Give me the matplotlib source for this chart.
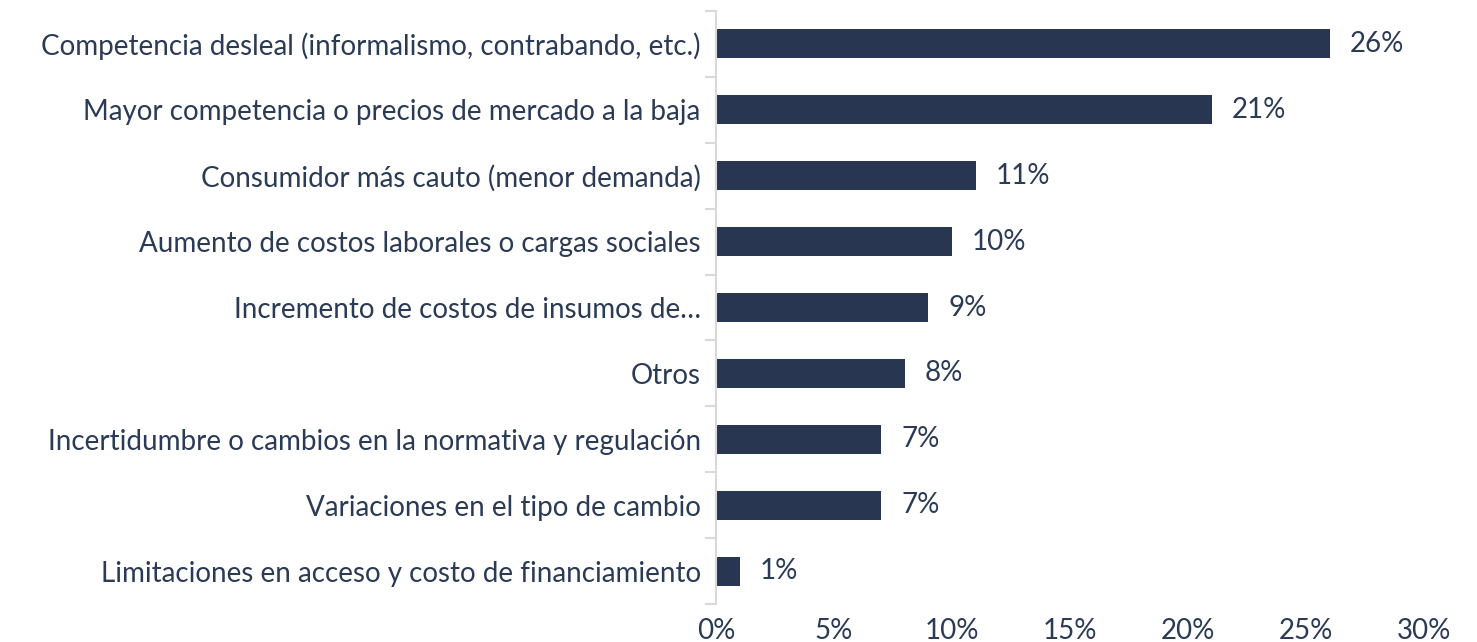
import matplotlib
matplotlib.use("Agg")
import matplotlib.pyplot as plt
from matplotlib.ticker import FuncFormatter, FixedLocator

categories = [
    "Competencia desleal (informalismo, contrabando, etc.)",
    "Mayor competencia o precios de mercado a la baja",
    "Consumidor más cauto (menor demanda)",
    "Aumento de costos laborales o cargas sociales",
    "Incremento de costos de insumos de…",
    "Otros",
    "Incertidumbre o cambios en la normativa y regulación",
    "Variaciones en el tipo de cambio",
    "Limitaciones en acceso y costo de financiamiento",
]
values = [26, 21, 11, 10, 9, 8, 7, 7, 1]
xticks = [0, 5, 10, 15, 20, 25, 30]

bar_color = "#283652"
text_color = "#2b3a55"
spine_color = "#d9d9d9"
fs = 20

plt.rcParams['font.family'] = ['Lato', 'DejaVu Sans']

fig = plt.figure(figsize=(14.77, 6.42), dpi=100)
ax = fig.add_axes([716/1477, 1 - 604/642, (1424-716)/1477, (604-11)/642])

n = len(categories)
ypos = list(range(n))
ax.barh(ypos, values, height=0.44, color=bar_color)
ax.set_ylim(n - 0.5, -0.5)
ax.set_xlim(0, 30)

for y, v in zip(ypos, values):
    ax.text(v + 0.85, y, f"{v}%", va="center", ha="left", fontsize=fs, color=text_color)

ax.set_yticks(ypos)
ax.set_yticklabels(categories, fontsize=fs, color=text_color)
ax.tick_params(axis="y", which="major", length=0, pad=11)
ax.yaxis.set_minor_locator(FixedLocator([i - 0.5 for i in range(n + 1)]))
ax.tick_params(axis="y", which="minor", length=8, width=1.5, color=spine_color)

ax.xaxis.set_major_locator(FixedLocator(xticks))
ax.xaxis.set_major_formatter(FuncFormatter(lambda x, p: f"{int(x)}%"))
ax.tick_params(axis="x", length=0, pad=10, labelsize=fs, labelcolor=text_color)

for s in ["top", "right", "bottom"]:
    ax.spines[s].set_visible(False)
ax.spines["left"].set_color(spine_color)
ax.spines["left"].set_linewidth(1.5)

fig.savefig("out.png", dpi=100)
